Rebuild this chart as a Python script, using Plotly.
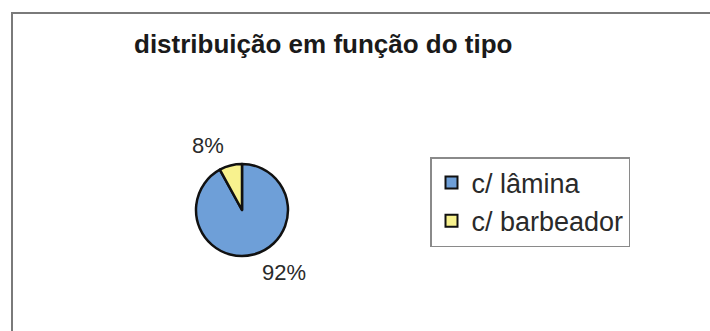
import plotly.graph_objects as go

# Share of each type
labels = ["c/ lâmina", "c/ barbeador"]
values = [92, 8]
colors = ["#6e9fd8", "#f8f28e"]
title_text = "distribuição em função do tipo"

W, H = 710, 331
total = sum(values)
pct = [f"{round(100 * v / total)}%" for v in values]

# pie centre / radius in pixels
cx, cy, r = 242, 210, 46

fig = go.Figure(
    go.Pie(
        labels=labels,
        values=values,
        sort=False,
        direction="clockwise",
        rotation=0,
        textinfo="none",
        hoverinfo="label+percent",
        marker=dict(colors=colors, line=dict(color="#111111", width=2.5)),
        domain=dict(
            x=[(cx - r) / W, (cx + r) / W],
            y=[(H - cy - r) / H, (H - cy + r) / H],
        ),
    )
)

# percentage labels placed outside the slices
label_pos = [(284, 272), (208, 145)]
annotations = []
for txt, (px, py) in zip(pct, label_pos):
    annotations.append(
        dict(
            text=txt,
            x=px / W,
            y=1 - py / H,
            xref="paper",
            yref="paper",
            showarrow=False,
            xanchor="center",
            yanchor="middle",
            font=dict(family="Liberation Sans, Arial, sans-serif", size=22, color="#2a2a2a"),
        )
    )

annotations.append(
    dict(
        text=f"<b>{title_text}</b>",
        x=323 / W,
        y=1 - 44 / H,
        xref="paper",
        yref="paper",
        showarrow=False,
        xanchor="center",
        yanchor="middle",
        font=dict(family="Liberation Sans, Arial, sans-serif", size=26, color="#1a1a1a"),
    )
)

fig.update_layout(
    width=W,
    height=H,
    margin=dict(l=0, r=0, t=0, b=0),
    paper_bgcolor="white",
    plot_bgcolor="white",
    showlegend=True,
    legend=dict(
        x=430 / W,
        y=1 - 157 / H,
        xanchor="left",
        yanchor="top",
        bordercolor="#8a8a8a",
        borderwidth=1.5,
        bgcolor="white",
        font=dict(family="Liberation Sans, Arial, sans-serif", size=27, color="#2a2a2a"),
        itemsizing="constant",
    ),
    annotations=annotations,
    shapes=[
        # chart-area frame (runs past the right and bottom edges)
        dict(
            type="rect",
            xref="paper",
            yref="paper",
            x0=12 / W,
            x1=1.05,
            y0=-0.1,
            y1=1 - 13 / H,
            line=dict(color="#7a7a7a", width=2),
            fillcolor="rgba(0,0,0,0)",
        )
    ],
)

fig.write_html("out.html")
